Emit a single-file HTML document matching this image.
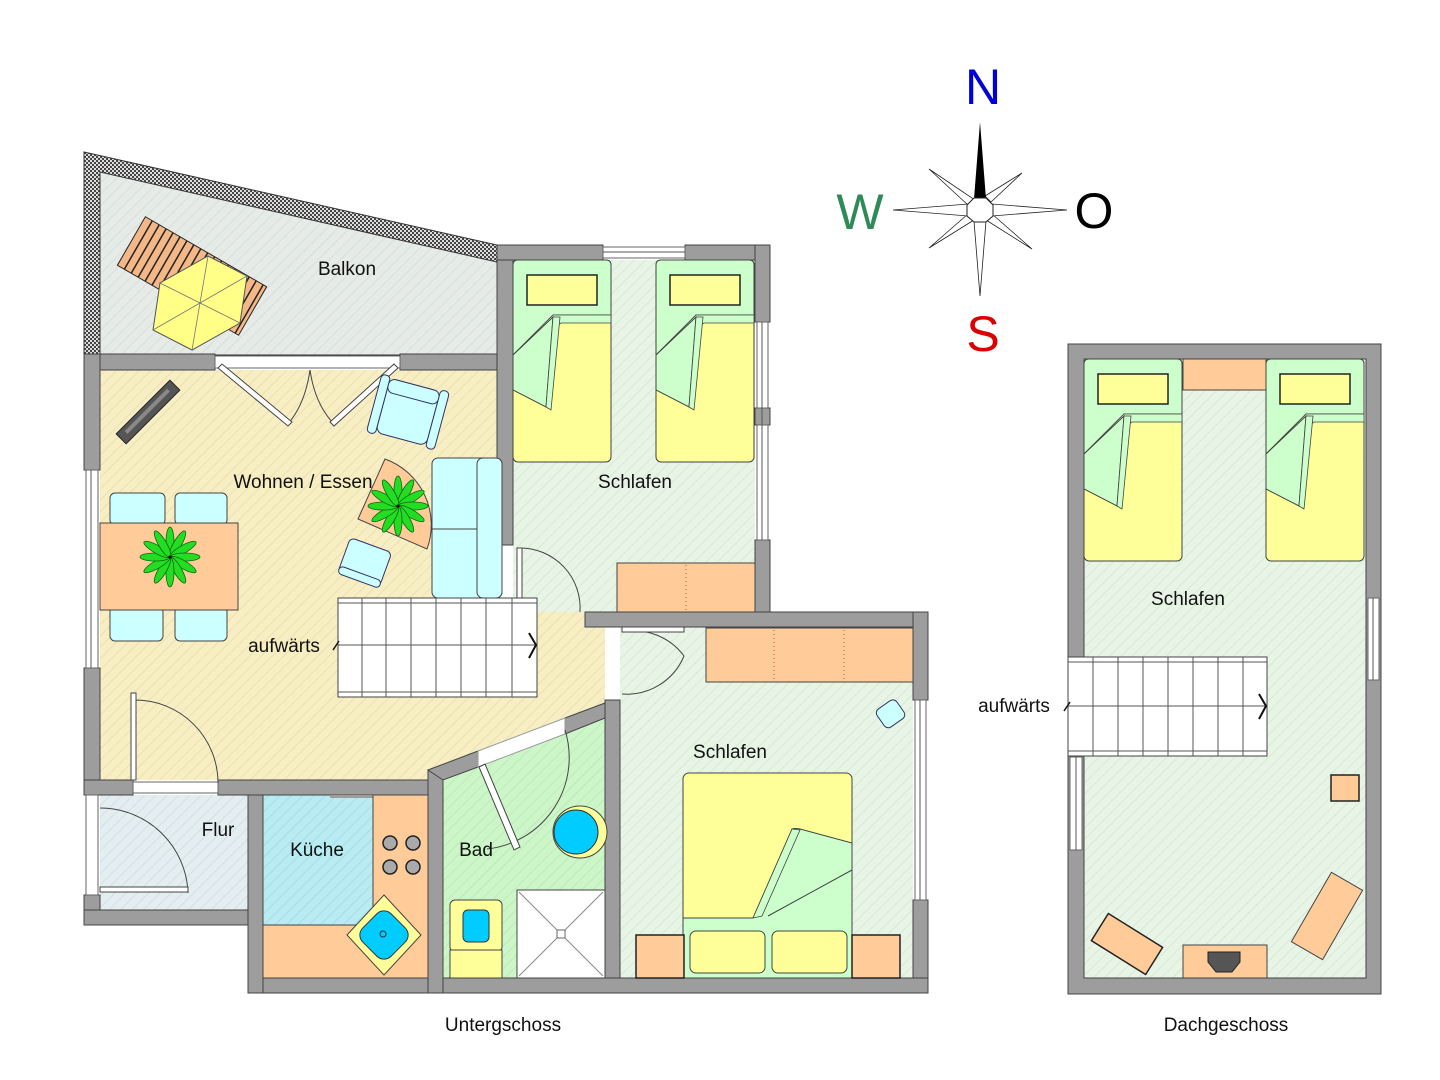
<!DOCTYPE html>
<html><head><meta charset="utf-8"><style>
html,body{margin:0;padding:0;background:#fff}
svg{display:block}
text{font-family:"Liberation Sans",Arial,sans-serif}
</style></head><body>
<svg width="1440" height="1080" viewBox="0 0 1440 1080" xmlns="http://www.w3.org/2000/svg">
<defs>
<pattern id="hY" width="8" height="8" patternUnits="userSpaceOnUse" patternTransform="rotate(45)"><rect width="8" height="8" fill="#f7eec4"/><line x1="0" y1="0" x2="0" y2="8" stroke="#ebe0b0" stroke-width="2"/></pattern>
<pattern id="hG" width="8" height="8" patternUnits="userSpaceOnUse" patternTransform="rotate(45)"><rect width="8" height="8" fill="#e8f5e6"/><line x1="0" y1="0" x2="0" y2="8" stroke="#d6ead2" stroke-width="2"/></pattern>
<pattern id="hB" width="8" height="8" patternUnits="userSpaceOnUse" patternTransform="rotate(45)"><rect width="8" height="8" fill="#e4eef0"/><line x1="0" y1="0" x2="0" y2="8" stroke="#d2e0e4" stroke-width="2"/></pattern>
<pattern id="hC" width="8" height="8" patternUnits="userSpaceOnUse" patternTransform="rotate(45)"><rect width="8" height="8" fill="#b9ecf2"/><line x1="0" y1="0" x2="0" y2="8" stroke="#a8dde4" stroke-width="2"/></pattern>
<pattern id="hBad" width="8" height="8" patternUnits="userSpaceOnUse" patternTransform="rotate(45)"><rect width="8" height="8" fill="#ccf5c8"/><line x1="0" y1="0" x2="0" y2="8" stroke="#bfeabb" stroke-width="2"/></pattern>
<pattern id="hBal" width="8" height="8" patternUnits="userSpaceOnUse" patternTransform="rotate(45)"><rect width="8" height="8" fill="#e6ebe8"/><line x1="0" y1="0" x2="0" y2="8" stroke="#d8dfdb" stroke-width="2"/></pattern>
<pattern id="chk" width="4" height="4" patternUnits="userSpaceOnUse"><rect width="4" height="4" fill="#ddd"/><rect width="2" height="2" fill="#444"/><rect x="2" y="2" width="2" height="2" fill="#444"/></pattern>
<g id="plant"><g fill="#22dd22" stroke="#116611" stroke-width="0.8">
<ellipse cx="0" cy="-15" rx="4" ry="15"/><ellipse cx="0" cy="-15" rx="4" ry="15" transform="rotate(30)"/><ellipse cx="0" cy="-15" rx="4" ry="15" transform="rotate(60)"/><ellipse cx="0" cy="-15" rx="4" ry="15" transform="rotate(90)"/><ellipse cx="0" cy="-15" rx="4" ry="15" transform="rotate(120)"/><ellipse cx="0" cy="-15" rx="4" ry="15" transform="rotate(150)"/><ellipse cx="0" cy="-15" rx="4" ry="15" transform="rotate(180)"/><ellipse cx="0" cy="-15" rx="4" ry="15" transform="rotate(210)"/><ellipse cx="0" cy="-15" rx="4" ry="15" transform="rotate(240)"/><ellipse cx="0" cy="-15" rx="4" ry="15" transform="rotate(270)"/><ellipse cx="0" cy="-15" rx="4" ry="15" transform="rotate(300)"/><ellipse cx="0" cy="-15" rx="4" ry="15" transform="rotate(330)"/></g><circle r="1.5" fill="#000"/></g>
<g id="bed1">
<rect x="0" y="0" width="98" height="202" rx="5" fill="#ffff99" stroke="#444"/>
<path d="M0 5 Q0 0 5 0 L93 0 Q98 0 98 5 L98 55 L40 55 L0 95 Z" fill="#ccffcc" stroke="#444"/>
<rect x="14" y="15" width="70" height="30" fill="#ffff99" stroke="#222" stroke-width="1.5"/>
<path d="M0 95 L40 55 L98 55 L98 63 L48 63 Z" fill="#ccffcc" stroke="#444" stroke-width="0.8"/>
<path d="M0 95 L40 57 L33 147 L0 130 Z" fill="#ccffcc" stroke="#444"/>
<path d="M40 57 L47 57 L38 150 L33 147 Z" fill="#ccffcc" stroke="#444" stroke-width="0.8"/>
</g>
</defs>

<!-- ===== BALKON ===== -->
<polygon points="84,152 497,245 497,355 84,355" fill="url(#chk)" stroke="#333"/>
<polygon points="100,172 497,262 497,355 100,355" fill="url(#hBal)" stroke="#333"/>
<g transform="translate(192,276) rotate(30)">
<rect x="-70" y="-28" width="140" height="56" fill="#f4b888" stroke="#222"/>
<g stroke="#222" stroke-width="1.5">
<line x1="-62" y1="-28" x2="-62" y2="28"/><line x1="-54" y1="-28" x2="-54" y2="28"/><line x1="-46" y1="-28" x2="-46" y2="28"/><line x1="-38" y1="-28" x2="-38" y2="28"/><line x1="-30" y1="-28" x2="-30" y2="28"/><line x1="-22" y1="-28" x2="-22" y2="28"/><line x1="-14" y1="-28" x2="-14" y2="28"/><line x1="-6" y1="-28" x2="-6" y2="28"/><line x1="2" y1="-28" x2="2" y2="28"/><line x1="10" y1="-28" x2="10" y2="28"/><line x1="18" y1="-28" x2="18" y2="28"/><line x1="26" y1="-28" x2="26" y2="28"/><line x1="34" y1="-28" x2="34" y2="28"/><line x1="42" y1="-28" x2="42" y2="28"/><line x1="50" y1="-28" x2="50" y2="28"/><line x1="58" y1="-28" x2="58" y2="28"/><line x1="66" y1="-28" x2="66" y2="28"/></g></g>
<g transform="translate(200,303)">
<polygon points="8,-47 47,-27 40,20 -8,47 -47,27 -40,-20" fill="#ffff88" stroke="#555"/>
<g stroke="#777" stroke-width="0.8"><line x1="8" y1="-47" x2="-8" y2="47"/><line x1="47" y1="-27" x2="-47" y2="27"/><line x1="40" y1="20" x2="-40" y2="-20"/></g></g>

<!-- ===== FLOORS UNTERGESCHOSS ===== -->
<polygon points="100,370 497,370 497,612 605,612 605,703 428,770 428,780 100,780" fill="url(#hY)"/>
<rect x="513" y="260" width="242" height="352" fill="url(#hG)"/>
<rect x="513" y="545" width="92" height="67" fill="url(#hG)"/>
<rect x="620" y="627" width="293" height="351" fill="url(#hG)"/>
<rect x="100" y="795" width="148" height="115" fill="url(#hB)"/>
<rect x="263" y="795" width="165" height="183" fill="url(#hC)"/>
<polygon points="443,780 605,718 605,978 443,978" fill="url(#hBad)"/>

<!-- ===== WALLS UG ===== -->
<g fill="#9d9d9d" stroke="#444" stroke-width="1">
<rect x="84" y="354" width="131" height="16"/>
<rect x="400" y="354" width="113" height="16"/>
<rect x="84" y="354" width="16" height="116"/>
<rect x="84" y="668" width="16" height="127"/>
<rect x="497" y="245" width="16" height="300"/>
<rect x="497" y="245" width="106" height="15"/>
<rect x="685" y="245" width="85" height="15"/>
<rect x="755" y="245" width="15" height="77"/>
<rect x="755" y="408" width="15" height="17"/>
<rect x="755" y="540" width="15" height="87"/>
<rect x="585" y="612" width="343" height="15"/>
<rect x="913" y="612" width="15" height="88"/>
<rect x="913" y="900" width="15" height="93"/>
<rect x="605" y="700" width="15" height="293"/>
<rect x="248" y="978" width="680" height="15"/>
<rect x="248" y="780" width="15" height="213"/>
<rect x="84" y="780" width="49" height="15"/>
<rect x="218" y="780" width="210" height="15"/>
<rect x="84" y="895" width="16" height="30"/>
<rect x="84" y="910" width="164" height="15"/>
<rect x="428" y="770" width="15" height="223"/>
<polygon points="428,770 478,751 478,767 443,780"/>
<polygon points="565,718 605,703 605,718 565,734"/>
</g>
<rect x="330" y="795" width="83" height="3" fill="#9d9d9d"/>
<g stroke="#666" stroke-width="1" fill="#fff">
<rect x="603" y="247" width="82" height="11"/>
<rect x="757" y="322" width="11" height="86"/>
<rect x="757" y="425" width="11" height="115"/>
<rect x="915" y="700" width="11" height="200"/>
<rect x="86" y="470" width="12" height="198"/>
<rect x="86" y="795" width="12" height="100"/>
<rect x="215" y="356" width="185" height="12"/>
<rect x="133" y="782" width="85" height="11"/>
</g>
<line x1="91" y1="470" x2="91" y2="668" stroke="#555"/>
<line x1="762" y1="322" x2="762" y2="540" stroke="#555"/>
<line x1="920" y1="700" x2="920" y2="900" stroke="#555"/>
<line x1="603" y1="252" x2="685" y2="252" stroke="#555"/>
<polygon points="478,751 565,718 565,734 478,767" fill="#fff" stroke="#999"/>

<!-- doors -->
<g fill="none" stroke="#444" stroke-width="1">
<path d="M310 370 Q305 405 287 425"/><path d="M310 370 Q315 405 335 425"/>
<path d="M135 700 A83 83 0 0 1 218 783"/>
<path d="M100 808 A88 88 0 0 1 188 893"/>
<path d="M520 548 A60 60 0 0 1 580 612"/>
<path d="M622 632 A62 62 0 0 1 684 656 A62 62 0 0 1 622 694"/>
<path d="M565 730 A92 92 0 0 1 487 849"/>
</g>
<g fill="#fff" stroke="#444" stroke-width="1">
<polygon points="218,368 288,426 292,422 222,364"/>
<polygon points="398,368 334,426 330,422 394,364"/>
<rect x="131" y="693" width="5" height="87"/>
<rect x="100" y="887" width="88" height="5"/>
<rect x="517" y="548" width="5" height="64"/>
<rect x="622" y="627" width="62" height="5"/>
<polygon points="479,767 485,764 520,847 514,850"/>
</g>

<!-- ===== FURNITURE LIVING ===== -->
<g transform="translate(148,412) rotate(-45)"><rect x="-38" y="-7" width="76" height="14" fill="#555" stroke="#222"/><rect x="-30" y="-3" width="60" height="4" fill="#888"/></g>
<rect x="110" y="493" width="55" height="32" rx="5" fill="#ccffff" stroke="#444"/>
<rect x="175" y="493" width="52" height="32" rx="5" fill="#ccffff" stroke="#444"/>
<rect x="110" y="607" width="53" height="34" rx="5" fill="#ccffff" stroke="#444"/>
<rect x="175" y="607" width="52" height="34" rx="5" fill="#ccffff" stroke="#444"/>
<rect x="100" y="523" width="138" height="87" fill="#ffcc99" stroke="#444"/>
<use href="#plant" x="170" y="557"/>
<g transform="translate(408,412) rotate(15)"><rect x="-26" y="-28" width="52" height="56" rx="7" fill="#ccffff" stroke="#336"/><rect x="-35" y="-30" width="9" height="60" rx="4" fill="#ccffff" stroke="#336"/><rect x="26" y="-30" width="9" height="60" rx="4" fill="#ccffff" stroke="#336"/><rect x="-26" y="-28" width="52" height="14" rx="6" fill="#ccffff" stroke="#336"/></g>
<rect x="432" y="458" width="70" height="140" rx="6" fill="#ccffff" stroke="#444"/>
<rect x="477" y="458" width="25" height="140" rx="6" fill="#ccffff" stroke="#444"/>
<line x1="432" y1="529" x2="477" y2="529" stroke="#444"/>
<path d="M358 519 L385 459 A70 70 0 0 1 427 549 Z" fill="#ffcc99" stroke="#444"/>
<use href="#plant" x="398" y="506"/>
<g transform="translate(365,562) rotate(20)"><rect x="-22" y="-18" width="44" height="36" rx="5" fill="#ccffff" stroke="#336"/><rect x="-22" y="12" width="44" height="8" rx="4" fill="#ccffff" stroke="#336"/></g>
<rect x="338" y="598" width="199" height="99" fill="#fff" stroke="#444"/>
<g stroke="#555" stroke-width="1">
<line x1="338" y1="603" x2="537" y2="603"/><line x1="338" y1="692" x2="537" y2="692"/>
<line x1="338" y1="645" x2="537" y2="645"/>
<line x1="362" y1="598" x2="362" y2="697"/><line x1="386" y1="598" x2="386" y2="697"/><line x1="411" y1="598" x2="411" y2="697"/><line x1="436" y1="598" x2="436" y2="697"/><line x1="461" y1="598" x2="461" y2="697"/><line x1="486" y1="598" x2="486" y2="697"/><line x1="512" y1="598" x2="512" y2="697"/>
</g>
<path d="M529 633 L536 645 L529 658" fill="none" stroke="#111" stroke-width="2"/>
<line x1="333" y1="650" x2="339" y2="641" stroke="#111" stroke-width="1.5"/>

<use href="#bed1" x="513" y="260"/>
<use href="#bed1" x="656" y="260"/>
<rect x="617" y="563" width="138" height="49" fill="#ffcc99" stroke="#444"/>
<line x1="686" y1="565" x2="686" y2="610" stroke="#865" stroke-dasharray="1 3"/>

<rect x="706" y="628" width="207" height="54" fill="#ffcc99" stroke="#444"/>
<g stroke="#865" stroke-dasharray="1 3"><line x1="774" y1="630" x2="774" y2="680"/><line x1="844" y1="630" x2="844" y2="680"/></g>
<g transform="translate(890,713) rotate(-35)"><rect x="-12" y="-10" width="24" height="22" rx="5" fill="#ccffff" stroke="#336"/></g>
<rect x="683" y="773" width="169" height="205" rx="6" fill="#ffff99" stroke="#444"/>
<path d="M683 918 L753 918 L792 829 Q795 828 800 829 L852 843 L852 978 L683 978 Z" fill="#ccffcc" stroke="#444"/>
<path d="M753 918 L792 829 L800 830 L762 916 Z" fill="#ccffcc" stroke="#444" stroke-width="0.8"/>
<line x1="852" y1="870" x2="768" y2="916" stroke="#444"/>
<rect x="690" y="931" width="75" height="42" rx="6" fill="#ffff99" stroke="#444"/>
<rect x="772" y="931" width="75" height="42" rx="6" fill="#ffff99" stroke="#444"/>
<rect x="636" y="935" width="48" height="43" fill="#ffcc99" stroke="#222" stroke-width="1.5"/>
<rect x="852" y="935" width="48" height="43" fill="#ffcc99" stroke="#222" stroke-width="1.5"/>

<path d="M373 795 L428 795 L428 978 L263 978 L263 925 L373 925 Z" fill="#ffcc99" stroke="#444"/>
<g fill="#aaa" stroke="#222" stroke-width="1.5"><circle cx="390" cy="843" r="7"/><circle cx="413" cy="843" r="7"/><circle cx="390" cy="867" r="7"/><circle cx="413" cy="867" r="7"/></g>
<polygon points="384,895 421,935 384,975 347,935" fill="#ffff99" stroke="#444"/>
<g transform="translate(384,935) rotate(-45)"><rect x="-20" y="-20" width="40" height="40" rx="10" fill="#00ccff" stroke="#333"/></g>
<circle cx="383" cy="934" r="3" fill="none" stroke="#333"/>

<rect x="450" y="900" width="52" height="52" rx="5" fill="#ffff99" stroke="#444"/>
<rect x="463" y="910" width="26" height="32" rx="5" fill="#00ccff" stroke="#333"/>
<rect x="450" y="950" width="52" height="28" fill="#ffff99" stroke="#444"/>
<rect x="517" y="890" width="88" height="88" fill="#fff" stroke="#444"/>
<g stroke="#888"><line x1="519" y1="892" x2="603" y2="976"/><line x1="603" y1="892" x2="519" y2="976"/></g>
<rect x="557" y="930" width="8" height="8" fill="#fff" stroke="#666"/>
<ellipse cx="580" cy="832" rx="27" ry="26" fill="#ffff99" stroke="#444"/>
<ellipse cx="576" cy="832" rx="22" ry="22" fill="#00ccff" stroke="#333"/>

<!-- ===== DACHGESCHOSS ===== -->
<rect x="1068" y="344" width="313" height="650" fill="#9d9d9d" stroke="#444"/>
<rect x="1084" y="359" width="282" height="619" fill="url(#hG)" stroke="#444"/>
<rect x="1368" y="598" width="11" height="82" fill="#fff" stroke="#666"/>
<line x1="1373" y1="598" x2="1373" y2="680" stroke="#555"/>
<rect x="1070" y="757" width="12" height="93" fill="#fff" stroke="#666"/>
<line x1="1076" y1="757" x2="1076" y2="850" stroke="#555"/>
<use href="#bed1" x="1084" y="359"/>
<use href="#bed1" x="1266" y="359"/>
<rect x="1183" y="359" width="83" height="31" fill="#ffcc99" stroke="#444"/>
<rect x="1068" y="657" width="199" height="99" fill="#fff" stroke="#444"/>
<g stroke="#555">
<line x1="1068" y1="662" x2="1267" y2="662"/><line x1="1068" y1="751" x2="1267" y2="751"/><line x1="1068" y1="706" x2="1267" y2="706"/>
<line x1="1093" y1="657" x2="1093" y2="756"/><line x1="1118" y1="657" x2="1118" y2="756"/><line x1="1143" y1="657" x2="1143" y2="756"/><line x1="1168" y1="657" x2="1168" y2="756"/><line x1="1193" y1="657" x2="1193" y2="756"/><line x1="1218" y1="657" x2="1218" y2="756"/><line x1="1243" y1="657" x2="1243" y2="756"/>
</g>
<path d="M1259 694 L1266 706 L1259 719" fill="none" stroke="#111" stroke-width="2"/>
<line x1="1064" y1="711" x2="1070" y2="702" stroke="#111" stroke-width="1.5"/>
<rect x="1331" y="775" width="28" height="26" fill="#ffcc99" stroke="#222" stroke-width="1.5"/>
<g transform="translate(1127,944) rotate(32)"><rect x="-32" y="-16" width="64" height="32" fill="#ffcc99" stroke="#222" stroke-width="1.5"/></g>
<g transform="translate(1327,916) rotate(-60)"><rect x="-40" y="-18" width="80" height="36" fill="#ffcc99" stroke="#444"/></g>
<rect x="1183" y="945" width="84" height="33" fill="#ffcc99" stroke="#444"/>
<path d="M1208 952 L1240 952 L1240 962 L1232 972 L1216 972 L1208 962 Z" fill="#555" stroke="#222"/>

<!-- ===== COMPASS ===== -->
<g stroke="#222" stroke-width="0.8" fill="#fff">
<polygon points="929,169 975,200 969,206"/>
<polygon points="1022,173 991,202 985,196"/>
<polygon points="929,248 968,214 974,220"/>
<polygon points="1032,249 986,220 992,214"/>
<polygon points="893,210 968,204 968,216"/>
<polygon points="1067,210 992,204 992,216"/>
<polygon points="980,296 974,221 986,221"/>
</g>
<polygon points="980,122 986,199 974,199" fill="#000"/>
<polygon points="974,198 986,198 993,205 993,216 986,222 974,222 967,216 967,205" fill="#fff" stroke="#222"/>
<text x="983" y="104" font-size="50" fill="#0000dd" text-anchor="middle">N</text>
<text x="860" y="229" font-size="50" fill="#2e8b57" text-anchor="middle">W</text>
<text x="1094" y="228" font-size="50" fill="#000" text-anchor="middle">O</text>
<text x="983" y="351" font-size="50" fill="#dd0000" text-anchor="middle">S</text>

<g font-size="19" fill="#111" text-anchor="middle">
<text x="347" y="275">Balkon</text>
<text x="303" y="488">Wohnen / Essen</text>
<text x="635" y="488">Schlafen</text>
<text x="284" y="652">aufwärts</text>
<text x="730" y="758">Schlafen</text>
<text x="218" y="836">Flur</text>
<text x="317" y="856">Küche</text>
<text x="476" y="856">Bad</text>
<text x="1188" y="605">Schlafen</text>
<text x="1014" y="712">aufwärts</text>
<text x="503" y="1031">Untergschoss</text>
<text x="1226" y="1031">Dachgeschoss</text>
</g>
</svg>
</body></html>
